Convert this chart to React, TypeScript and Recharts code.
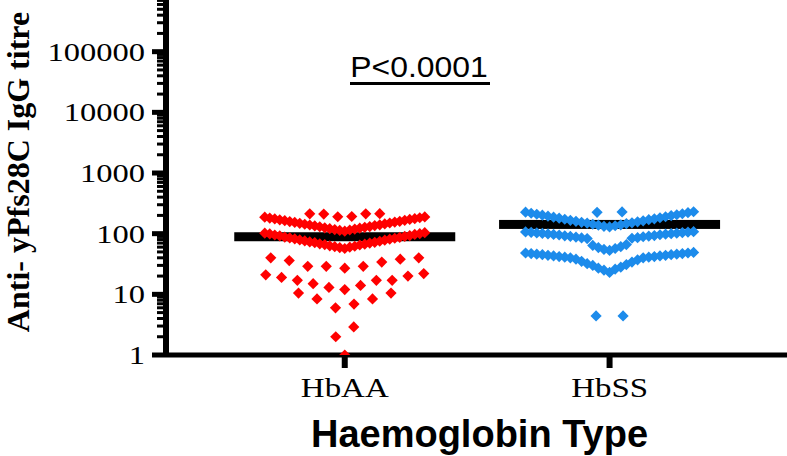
import { ScatterChart, Scatter, XAxis, YAxis } from 'recharts'

const GROUPS = ['HbAA', 'HbSS']
const MEDIANS = [89, 142]
const MAJOR_TICKS = [1, 10, 100, 1000, 10000, 100000]

// titres, one array per swarm row (ascending)
const hbaaTop = [190, 192, 210, 212, 212, 214]
const hbaaUpper = [
  110, 113, 115, 117, 119, 121, 123, 125, 127, 130, 131, 134, 136, 139, 140, 143, 145,
  148, 150, 153, 155, 158, 160, 164, 166, 169, 172, 175, 177, 181, 183, 187, 189,
]
const hbaaLower = [
  57, 59, 60, 61, 62, 63, 65, 66, 67, 68, 70, 71, 72, 73, 75, 76, 78, 79, 81, 82, 84, 85,
  87, 88, 90, 92, 93, 95, 97, 99, 100, 102, 104,
]
const hbaaRowA = [27, 29, 29, 29, 34, 36, 38, 40, 40]
const hbaaRowB = [12, 13, 14, 15, 17, 17, 17, 19, 20, 21, 22]
const hbaaRowC = [6.0, 6.9, 8.4, 8.4, 10.5, 10.5]
const hbaaRowD = [2.0, 2.9]
const hbaaRowE = [1]

const hbssPeak = [225, 228]
const hbssTop = [
  129, 132, 135, 138, 140, 143, 146, 149, 151, 154, 157, 160, 163, 166, 170, 173, 176, 180,
  183, 187, 190, 194, 198, 202, 205, 209, 213, 217, 222, 226, 230,
]
const hbssMid = [
  53, 55, 57, 59, 61, 64, 66, 83, 84, 85, 86, 88, 89, 90, 91, 92, 93, 95, 96, 97, 98, 99,
  100, 101, 102, 103, 104, 105, 106, 107, 108,
]
const hbssLow = [
  23, 25, 26, 27, 28, 30, 31, 32, 34, 35, 37, 38, 40, 40, 41, 41, 42, 42, 43, 43, 44, 44,
  45, 45, 46, 46, 47, 47, 48, 48, 49,
]
const hbssBottom = [4.4, 4.4]

// layout
const CHART_W = 787
const CHART_H = 456
const Y_AXIS_W = 166
const X_AXIS_H = 101
const X_DOMAIN: [number, number] = [0.325, 2.67]
const Y_DOMAIN: [number, number] = [1, 711000]
const PX_PER_UNIT = (CHART_W - Y_AXIS_W) / (X_DOMAIN[1] - X_DOMAIN[0])

const RED = '#ff0000'
const BLUE = '#1c8beb'
const SERIF = '"Liberation Serif", "Times New Roman", serif'
const SANS = '"Liberation Sans", Arial, sans-serif'

const MINOR_TICKS: number[] = []
for (let d = 1; d <= 100000; d *= 10) {
  for (let m = 2; m <= 9; m++) {
    if (m * d <= Y_DOMAIN[1]) MINOR_TICKS.push(m * d)
  }
}
const ALL_TICKS = [...MAJOR_TICKS, ...MINOR_TICKS].sort((a, b) => a - b)

// rows [values, spacing in px]
const HBAA_ROWS: [number[], number][] = [
  [hbaaTop, 14],
  [hbaaUpper, 5],
  [hbaaLower, 5],
  [hbaaRowA, 18.5],
  [hbaaRowB, 15.8],
  [hbaaRowC, 18.5],
  [hbaaRowD, 18],
  [hbaaRowE, 10],
]
const HBSS_ROWS: [number[], number][] = [
  [hbssPeak, 25],
  [hbssTop, 5.6],
  [hbssMid, 5.6],
  [hbssLow, 5.6],
  [hbssBottom, 27],
]

// place values centre-out like a column scatter: smallest in the middle
function swarmRow(values: number[], group: number, step: number) {
  const sorted = [...values].sort((a, b) => a - b)
  const even = sorted.length % 2 === 0
  return sorted.map((v, i) => {
    let slot = 0
    if (even) {
      const k = Math.floor(i / 2) + 0.5
      slot = i % 2 === 0 ? -k : k
    } else if (i > 0) {
      const k = Math.ceil(i / 2)
      slot = i % 2 === 1 ? -k : k
    }
    return { x: group + (slot * step) / PX_PER_UNIT, y: v }
  })
}

const hbaaPoints = HBAA_ROWS.flatMap(([vals, step]) => swarmRow(vals, 1, step))
const hbssPoints = HBSS_ROWS.flatMap(([vals, step]) => swarmRow(vals, 2, step))
const medianPoints = MEDIANS.map((m, i) => ({ x: i + 1, y: m }))

const diamond = (color: string) => (props: any) => {
  const { cx, cy } = props
  const r = 5.6
  return <path d={`M${cx},${cy - r}L${cx + r},${cy}L${cx},${cy + r}L${cx - r},${cy}Z`} fill={color} />
}

const medianBar = (props: any) => {
  const { cx, cy } = props
  return <rect x={cx - 110.5} y={cy - 4.5} width={221} height={9} fill="#000" />
}

const YTick = (props: any) => {
  const { x, y, payload } = props
  const major = MAJOR_TICKS.includes(payload.value)
  return (
    <g>
      <line x1={x - (major ? 14 : 9)} x2={x} y1={y} y2={y} stroke="#000" strokeWidth={major ? 5 : 3} />
      {major && (
        <text
          transform={`translate(${x - 21},${y + 9}) scale(1.25,1)`}
          textAnchor="end"
          fontFamily={SERIF}
          fontSize={26}
          fill="#000"
        >
          {payload.value}
        </text>
      )}
    </g>
  )
}

const XTick = (props: any) => {
  const { x, y, payload } = props
  return (
    <text
      transform={`translate(${x},${y + 29}) scale(1.22,1)`}
      textAnchor="middle"
      fontFamily={SERIF}
      fontSize={27}
      fill="#000"
    >
      {GROUPS[payload.value - 1]}
    </text>
  )
}

export default function App() {
  return (
    <div style={{ position: 'absolute', left: 0, top: 0, width: CHART_W, height: CHART_H, background: '#fff', overflow: 'hidden' }}>
      <ScatterChart width={CHART_W} height={CHART_H} margin={{ top: 0, right: 0, bottom: 0, left: 0 }}>
        <XAxis
          type="number"
          dataKey="x"
          domain={X_DOMAIN}
          ticks={[1, 2]}
          interval={0}
          allowDataOverflow
          height={X_AXIS_H}
          axisLine={{ stroke: '#000', strokeWidth: 5 }}
          tickLine={{ stroke: '#000', strokeWidth: 6 }}
          tickSize={13}
          tickMargin={0}
          tick={XTick}
        />
        <YAxis
          type="number"
          dataKey="y"
          scale="log"
          domain={Y_DOMAIN}
          ticks={ALL_TICKS}
          interval={0}
          allowDataOverflow
          width={Y_AXIS_W}
          axisLine={{ stroke: '#000', strokeWidth: 6 }}
          tickLine={false}
          tickSize={0}
          tickMargin={0}
          tick={YTick}
        />
        <Scatter data={medianPoints} shape={medianBar} isAnimationActive={false} />
        <Scatter data={hbaaPoints} shape={diamond(RED)} isAnimationActive={false} />
        <Scatter data={hbssPoints} shape={diamond(BLUE)} isAnimationActive={false} />
      </ScatterChart>

      <div
        style={{
          position: 'absolute',
          left: 18 - 170,
          top: 172 - 13,
          width: 340,
          height: 26,
          lineHeight: '26px',
          textAlign: 'center',
          transform: 'rotate(-90deg)',
          fontFamily: SERIF,
          fontWeight: 'bold',
          fontSize: 32,
          whiteSpace: 'nowrap',
        }}
      >
        Anti- yPfs28C IgG titre
      </div>

      <div
        style={{
          position: 'absolute',
          left: 479.5 - 250,
          top: 415,
          width: 500,
          lineHeight: '38px',
          textAlign: 'center',
          fontFamily: SANS,
          fontWeight: 'bold',
          fontSize: 38,
          whiteSpace: 'nowrap',
        }}
      >
        Haemoglobin Type
      </div>

      <div
        style={{
          position: 'absolute',
          left: 418.5 - 100,
          top: 53,
          width: 200,
          lineHeight: '29px',
          textAlign: 'center',
          fontFamily: SANS,
          fontSize: 29,
          whiteSpace: 'nowrap',
          transform: 'scaleX(1.1)',
        }}
      >
        P&lt;0.0001
      </div>
      <div style={{ position: 'absolute', left: 350, top: 82, width: 140, height: 3, background: '#000' }} />
    </div>
  )
}
